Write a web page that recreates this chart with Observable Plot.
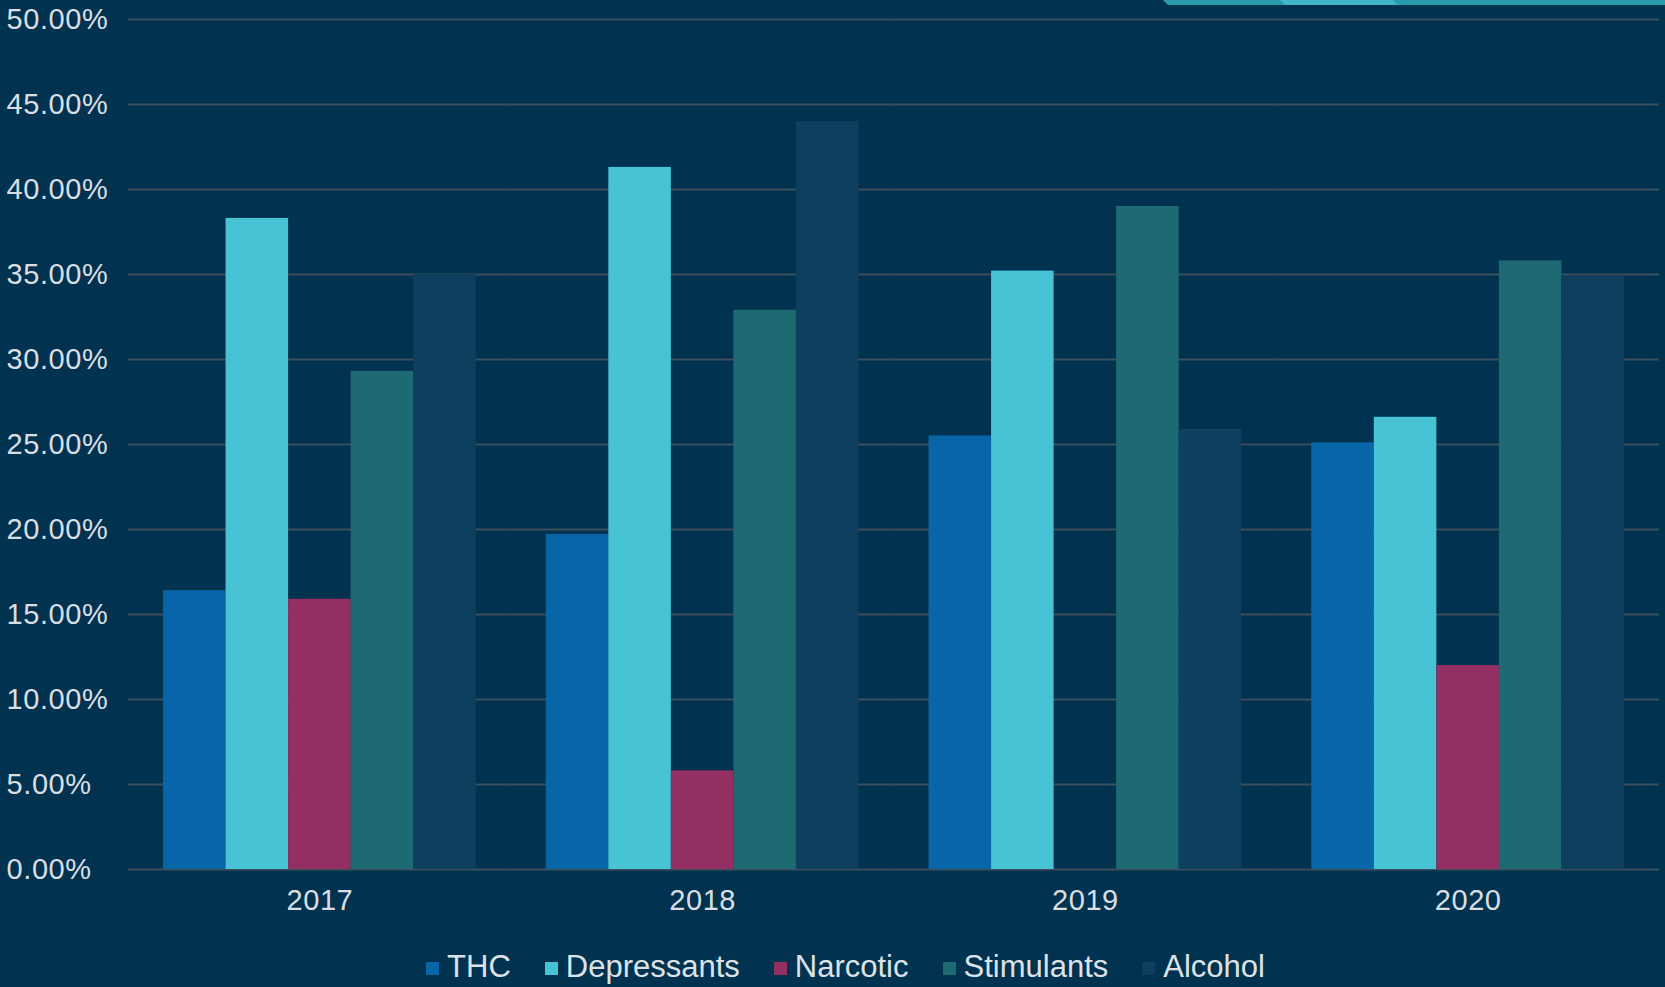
<!DOCTYPE html>
<html>
<head>
<meta charset="utf-8">
<script src="https://cdn.jsdelivr.net/npm/d3@7"></script>
<script src="https://cdn.jsdelivr.net/npm/@observablehq/plot@0.6"></script>
<style>
html, body { margin: 0; padding: 0; background: #01324f; width: 1665px; height: 987px; overflow: hidden; font-family: "Liberation Sans", Arial, sans-serif; }
#wrap { position: relative; width: 1665px; height: 987px; }
#chart svg { display: block; }
#chart svg text { letter-spacing: 0.6px; }
#legend { height: 52px; box-sizing: border-box; padding-top: 11px; padding-left: 26px; display: flex; align-items: center; justify-content: center; color: #dde2e7; font-size: 31px; }
.item { display: flex; align-items: center; margin: 0 17px; }
.sw { width: 13px; height: 13px; margin-right: 8px; margin-top: 4px; }
#deco { position: absolute; top: 0; left: 0; }
</style>
</head>
<body>
<div id="wrap">
  <div id="chart"></div>
  <div id="legend"></div>
  <svg id="deco" width="1665" height="8">
    <polygon points="1163,0 1665,0 1665,5 1168,5" fill="#2a9bab"></polygon>
    <polygon points="1280,0 1393,0 1398,5 1285,5" fill="#3fb6c9"></polygon>
  </svg>
</div>
<script>
const years = ["2017", "2018", "2019", "2020"];
const series = ["THC", "Depressants", "Narcotic", "Stimulants", "Alcohol"];
const thc = [16.4, 19.7, 25.5, 25.1];
const depressants = [38.3, 41.3, 35.2, 26.6];
const narcotic = [15.9, 5.8, 0, 12.0];
const stimulants = [29.3, 32.9, 39.0, 35.8];
const alcohol = [35.0, 44.0, 25.9, 34.9];
const colors = ["#0865a8", "#48c2d5", "#942f63", "#1d6a72", "#0f3f5f"];
const yTicks = [0, 5, 10, 15, 20, 25, 30, 35, 40, 45, 50];

const valuesBySeries = [thc, depressants, narcotic, stimulants, alcohol];
const rows = [];
years.forEach((yr, i) => {
  series.forEach((s, j) => {
    rows.push({year: yr, series: s, value: valuesBySeries[j][i]});
  });
});

const textColor = "#d9dee3";
const chart = Plot.plot({
  width: 1665,
  height: 935,
  marginLeft: 128,
  marginRight: 6,
  marginTop: 19,
  marginBottom: 66,
  style: { background: "transparent", color: textColor, fontFamily: "'Liberation Sans', Arial, sans-serif", overflow: "visible" },
  fx: { domain: years, paddingInner: 0, paddingOuter: 0, round: false, label: null },
  x: { domain: series, paddingInner: 0, paddingOuter: 0.56, round: false, axis: null },
  y: { domain: [0, 50] },
  color: { domain: series, range: colors },
  marks: [
    Plot.gridY(yTicks, { stroke: "#3d4e5c", strokeOpacity: 1, strokeWidth: 2 }),
    Plot.barY(rows, { fx: "year", x: "series", y: "value", fill: "series" }),
    Plot.axisY(yTicks, { tickSize: 0, textAnchor: "start", dx: -113, fontSize: 29, fill: textColor, tickFormat: d => d.toFixed(2) + "%", label: null }),
    Plot.axisFx({ anchor: "bottom", tickSize: 0, tickPadding: 20, fontSize: 29, fill: textColor, label: null })
  ]
});
document.getElementById("chart").appendChild(chart);

const legend = document.getElementById("legend");
series.forEach((s, j) => {
  const item = document.createElement("div");
  item.className = "item";
  const sw = document.createElement("span");
  sw.className = "sw";
  sw.style.background = colors[j];
  const t = document.createElement("span");
  t.textContent = s;
  item.appendChild(sw);
  item.appendChild(t);
  legend.appendChild(item);
});
</script>
</body>
</html>
